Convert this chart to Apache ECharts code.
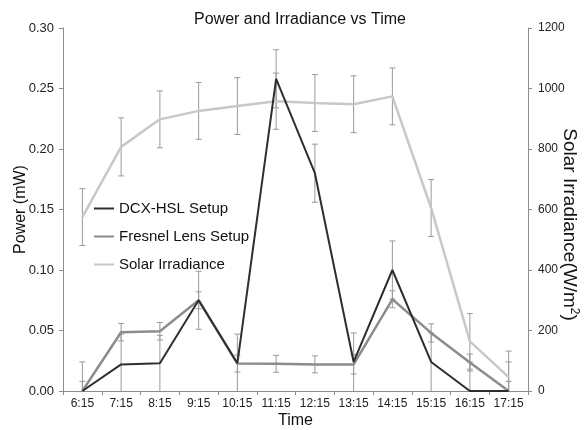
<!DOCTYPE html>
<html>
<head>
<meta charset="utf-8">
<script src="https://cdn.jsdelivr.net/npm/echarts@6/dist/echarts.min.js"></script>
<style>
  html, body { margin: 0; padding: 0; background: #fff; }
  #chart { width: 586px; height: 430px; }
</style>
</head>
<body>
<div id="chart"></div>
<script>
// data
var times = ['6:15', '7:15', '8:15', '9:15', '10:15', '11:15', '12:15', '13:15', '14:15', '15:15', '16:15', '17:15'];
var dcx = [0, 0.022, 0.023, 0.075, 0.023, 0.258, 0.180, 0.024, 0.100, 0.024, 0, 0];
var dcxErr = [0.024, 0.025, 0.023, 0.024, 0.024, 0.024, 0.024, 0.024, 0.024, 0.024, 0.024, 0.024];
var fresnel = [0, 0.0486, 0.0494, 0.075, 0.0227, 0.0225, 0.022, 0.022, 0.0758, 0.048, 0.0235, 0];
var fresnelErr = [0.008, 0.0072, 0.0072, 0.007, 0.007, 0.007, 0.007, 0.008, 0.007, 0.0075, 0.007, 0.008];
var solar = [575, 807, 898, 926, 942, 958, 952, 948, 974, 605, 164, 46];
var solarErr = [94, 96, 94, 94, 94, 93, 94, 94, 94, 94, 92, 86];

var fontFam = '"Liberation Sans", Arial, sans-serif';

function errData(vals, errs) {
    return vals.map(function (v, i) { return [i, v - errs[i], v + errs[i]]; });
}

// 误差线
function errRender(params, api) {
    var x = api.value(0);
    var lo = api.value(1), hi = api.value(2);
    var top = api.coord([x, hi]);
    var bot = api.coord([x, Math.max(lo, 0)]);
    var cw = 3;
    var st = { stroke: '#9a9a9a', lineWidth: 1 };
    var kids = [
        { type: 'line', shape: { x1: top[0], y1: top[1], x2: bot[0], y2: bot[1] }, style: st },
        { type: 'line', shape: { x1: top[0] - cw, y1: top[1], x2: top[0] + cw, y2: top[1] }, style: st }
    ];
    if (lo > 0) {
        kids.push({ type: 'line', shape: { x1: bot[0] - cw, y1: bot[1], x2: bot[0] + cw, y2: bot[1] }, style: st });
    }
    return { type: 'group', children: kids };
}

var chart = echarts.init(document.getElementById('chart'));

var axisLine = { show: true, lineStyle: { color: '#8c8c8c', width: 1 } };
var axisTick = { show: true, length: 4, lineStyle: { color: '#8c8c8c' } };

var option = {
    animation: false,
    textStyle: { fontFamily: fontFam },
    title: {
        text: 'Power and Irradiance vs Time',
        left: 189,
        top: 7,
        textStyle: { fontFamily: fontFam, fontSize: 16, fontWeight: 'normal', color: '#111' }
    },
    legend: {
        orient: 'vertical',
        left: 94,
        top: 201,
        padding: 0,
        icon: 'rect',
        itemWidth: 20,
        itemHeight: 2,
        itemGap: 13,
        data: ['DCX-HSL Setup', 'Fresnel Lens Setup', 'Solar Irradiance'],
        textStyle: { fontFamily: fontFam, fontSize: 15, color: '#111', lineHeight: 15 }
    },
    grid: { left: 63, right: 58, top: 28, bottom: 39, containLabel: false, outerBoundsMode: 'none' },
    xAxis: {
        type: 'category',
        data: times,
        boundaryGap: true,
        name: 'Time',
        nameLocation: 'middle',
        nameGap: 22,
        nameMoveOverlap: false,
        nameTextStyle: { fontFamily: fontFam, fontSize: 16, color: '#111' },
        axisLine: axisLine,
        axisTick: { show: true, length: 4, interval: 0, lineStyle: { color: '#8c8c8c' } },
        axisLabel: { interval: 0, margin: 7, fontSize: 12, color: '#222' },
        splitLine: { show: false }
    },
    yAxis: [
        {
            type: 'value',
            min: 0, max: 0.3, interval: 0.05,
            name: 'Power (mW)',
            nameLocation: 'middle',
            nameGap: 34,
            nameMoveOverlap: false,
            nameTextStyle: { fontFamily: fontFam, fontSize: 16, color: '#111' },
            axisLine: axisLine,
            axisTick: axisTick,
            axisLabel: { margin: 9, fontSize: 13, color: '#222', formatter: function (v) { return v.toFixed(2); } },
            splitLine: { show: false }
        },
        {
            type: 'value',
            min: 0, max: 1200, interval: 200,
            position: 'right',
            name: 'Solar Irradiance(W/m{sup|2})',
            nameLocation: 'middle',
            nameRotate: -90,
            nameGap: 31,
            nameMoveOverlap: false,
            nameTextStyle: {
                fontFamily: fontFam, fontSize: 19, color: '#111',
                padding: [0, 0, 0, 30],
                rich: { sup: { fontFamily: fontFam, fontSize: 12, color: '#111', verticalAlign: 'top', padding: [0, 0, 9, 0] } }
            },
            axisLine: axisLine,
            axisTick: axisTick,
            axisLabel: { margin: 10, fontSize: 12, color: '#222', formatter: function (v) { return String(v); } },
            splitLine: { show: false }
        }
    ],
    series: [
        {
            name: 'DCX-HSL Setup',
            type: 'line',
            yAxisIndex: 0,
            data: dcx,
            symbol: 'none',
            z: 5,
            lineStyle: { color: '#2e2e2e', width: 2 },
            itemStyle: { color: '#2e2e2e' }
        },
        {
            name: 'Fresnel Lens Setup',
            type: 'line',
            yAxisIndex: 0,
            data: fresnel,
            symbol: 'none',
            z: 4,
            lineStyle: { color: '#8c8c8c', width: 2.5 },
            itemStyle: { color: '#8c8c8c' }
        },
        {
            name: 'Solar Irradiance',
            type: 'line',
            yAxisIndex: 1,
            data: solar,
            symbol: 'none',
            z: 3,
            lineStyle: { color: '#c8c8c8', width: 2.5 },
            itemStyle: { color: '#c8c8c8' }
        },
        {
            type: 'custom', yAxisIndex: 0, renderItem: errRender, z: 2, clip: true,
            encode: { x: 0, y: [1, 2] }, data: errData(dcx, dcxErr)
        },
        {
            type: 'custom', yAxisIndex: 0, renderItem: errRender, z: 2, clip: true,
            encode: { x: 0, y: [1, 2] }, data: errData(fresnel, fresnelErr)
        },
        {
            type: 'custom', yAxisIndex: 1, renderItem: errRender, z: 2, clip: true,
            encode: { x: 0, y: [1, 2] }, data: errData(solar, solarErr)
        }
    ]
};

chart.setOption(option);
</script>
</body>
</html>
